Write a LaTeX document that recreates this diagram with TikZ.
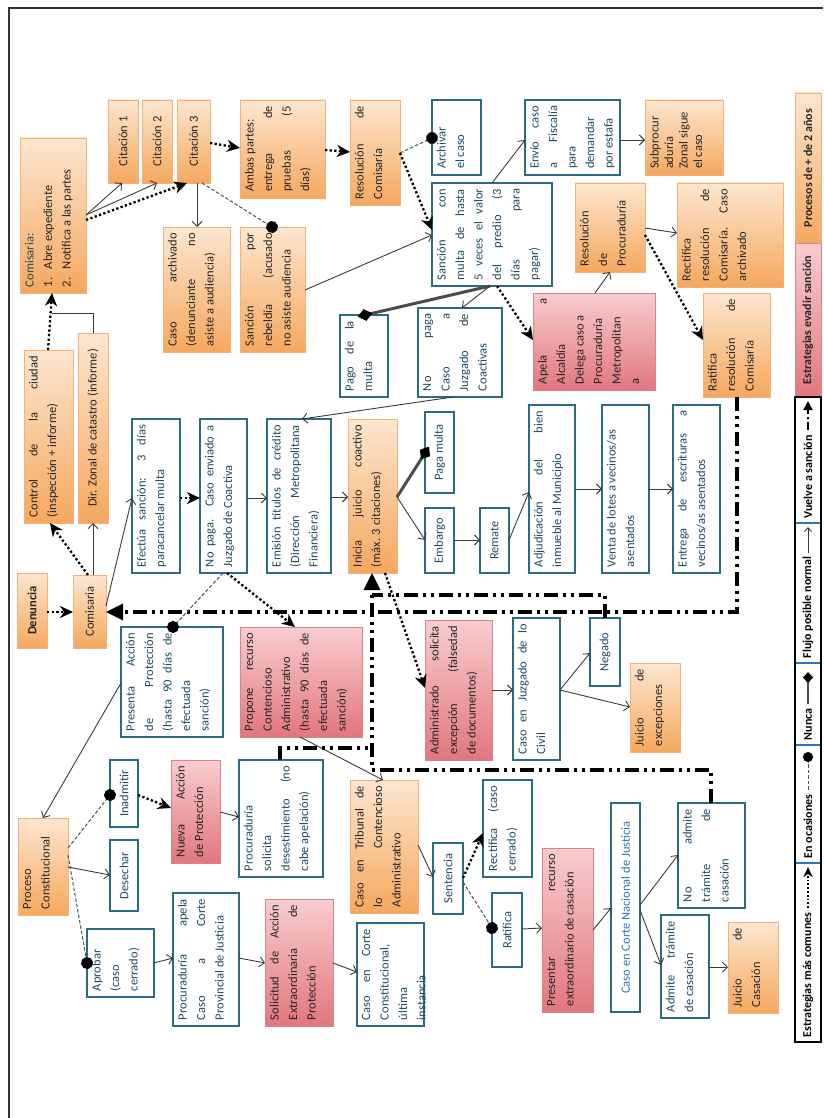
\documentclass[tikz,border=0pt]{standalone}
\usepackage{fontspec}
\setmainfont{Carlito}
\usetikzlibrary{arrows.meta,calc}

\definecolor{orL}{HTML}{FDE6CF}
\definecolor{orD}{HTML}{F5A85E}
\definecolor{orB}{HTML}{F2B27C}
\definecolor{pkL}{HTML}{F8CDCE}
\definecolor{pkD}{HTML}{E2767E}
\definecolor{pkB}{HTML}{D7848A}
\definecolor{wB}{HTML}{2C6B80}
\definecolor{wT}{HTML}{1F4B63}
\definecolor{oT}{HTML}{262626}
\definecolor{cBl}{HTML}{2E74B5}
\definecolor{ln}{HTML}{3A3A3A}
\definecolor{oc}{HTML}{3D5566}
\definecolor{sepB}{HTML}{2E75B6}

\newdimen\padv \padv=5pt
\newdimen\padh \padh=6pt
\newcommand\bodyfont{\fontsize{12.5}{18.5}\selectfont}
\newcommand\lgfont{\fontsize{12}{14}\selectfont\bfseries}

% text box: style, name, x1, x2, y1, y2, text (top aligned, justified, reads upwards)
\newcommand\tbox[7]{%
  \node[#1, minimum width={#6pt-#5pt}, minimum height={#4pt-#3pt}]
    (#2) at ({(#3+#4)/2},{(#5+#6)/2})
    {\parbox[c][\dimexpr#4pt-#3pt-2\padv\relax][t]{\dimexpr#6pt-#5pt-2\padh\relax}{#7}};}
% centred single-line box
\newcommand\cbox[7]{%
  \node[#1, minimum width={#6pt-#5pt}, minimum height={#4pt-#3pt}, align=center]
    (#2) at ({(#3+#4)/2},{(#5+#6)/2}) {#7};}

\begin{document}
\hyphenpenalty=10000 \exhyphenpenalty=10000 \tolerance=10000
\hbadness=10000 \vbadness=10000 \lefthyphenmin=64
\begin{tikzpicture}[x=1pt, y=-1pt,
  base/.style={rectangle, rotate=90, inner sep=0pt, outer sep=0pt, font=\bodyfont},
  wbox/.style={base, draw=wB, line width=1.1pt, fill=white, text=wT},
  obox/.style={base, draw=orB, line width=0.8pt, top color=orL, bottom color=orD, text=oT},
  pbox/.style={base, draw=pkB, line width=0.8pt, top color=pkL, bottom color=pkD, text=oT},
  lgOr/.style={obox, font=\lgfont},
  lgPk/.style={pbox, font=\lgfont},
  lgW/.style={base, fill=white},
  lgt/.style={rotate=90, inner sep=0.5pt, font=\lgfont, text=black},
  nrm/.style={draw=ln, line width=0.9pt, -{Straight Barb[length=5pt,width=10pt]}},
  plain/.style={draw=ln, line width=0.9pt},
  com/.style={draw=black, line width=2.3pt, dash pattern=on 2.3pt off 2.3pt,
    -{Stealth[length=13pt,width=12pt,inset=4pt]}},
  occ/.style={draw=oc, line width=1pt, dash pattern=on 3.5pt off 2pt,
    -{Circle[length=12pt,color=black]}, shorten >=-6pt},
  nev/.style={draw=black!70, line width=3pt, -{Diamond[length=15pt,width=12pt,color=black]}, shorten >=-7.5pt},
  back/.style={draw=black, line width=3.2pt,
    dash pattern=on 14pt off 5pt on 3pt off 5pt on 3pt off 5pt,
    -{Triangle[length=17pt,width=16pt]}},
  backp/.style={back, -},
  frame/.style={draw=black!80, line width=1.2pt}
]
\useasboundingbox (0,0) rectangle (823,1118);
\draw[frame] (9,1118) -- (9,8) -- (823,8);

% ---- boxes ----
\tbox{obox}{comL}{20}{86}{138}{293}{{\color{wT}Comisaria:}\\\makebox[18pt][l]{1.}Abre expediente\\\makebox[18pt][l]{2.}Notifica a las partes}
\cbox{obox}{cit1}{108}{138}{100}{183}{Citación 1}
\cbox{obox}{cit2}{142}{172}{100}{183}{Citación 2}
\cbox{obox}{cit3}{177}{210}{100}{183}{Citación 3}
\tbox{obox}{ambas}{240}{325}{100}{198}{Ambas partes:\\ entrega de\linebreak pruebas (5\linebreak días)}
\tbox{obox}{resC}{350}{400}{100}{205}{Resolución de\linebreak Comisaría}
\tbox{wbox}{arch}{432}{481}{100}{175}{Archivar\\ el caso}
\tbox{wbox}{sanM}{432}{552}{183}{286}{Sanción con\linebreak multa de hasta\linebreak 5 veces el valor\linebreak del predio (3\linebreak días para\linebreak pagar)}
\tbox{wbox}{envio}{525}{620}{100}{175}{Envío caso\linebreak a Fiscalía\linebreak para\\ demandar\\ por estafa}
\tbox{obox}{subp}{645}{723}{100}{175}{\baselineskip=14.5pt Subprocur\\ aduría\\ Zonal sigue\\ el caso}
\tbox{obox}{resP}{575}{645}{183}{272}{Resolución\\ de\\ Procuraduría}
\tbox{obox}{rectC}{677}{783}{183}{287}{Rectifica\\ resolución de\linebreak Comisaría. Caso\linebreak archivado}
\tbox{obox}{caseArch}{163}{230}{227}{352}{Caso archivado\linebreak (denunciante no\linebreak asiste a audiencia)}
\tbox{obox}{sanR}{240}{305}{227}{352}{Sanción por\linebreak rebeldía (acusado\linebreak no asiste audiencia}
\tbox{obox}{ctrl}{24}{73}{350}{523}{Control de la ciudad\linebreak (inspección + informe)}
\cbox{obox}{dirz}{78}{108}{333}{523}{Dir. Zonal de catastro (informe)}
\cbox{obox}{den}{17}{47}{573}{648}{\textbf{Denuncia}}
\cbox{obox}{comS}{73}{106}{575}{648}{Comisaria}
\tbox{wbox}{efec}{132}{180}{419}{573}{Efectúa sanción: 3 días\linebreak paracancelar multa}
\tbox{wbox}{nopag1}{200}{247}{419}{573}{No paga. Caso enviado a\linebreak Juzgado de Coactiva}
\tbox{wbox}{emis}{267}{331}{419}{573}{Emisión títulos de crédito\linebreak (Dirección Metropolitana\linebreak Financiera)}
\tbox{wbox}{pago}{340}{388}{315}{397}{Pago de la\linebreak multa}
\tbox{wbox}{nopag2}{418}{502}{308}{397}{No paga\linebreak Caso a\linebreak Juzgado de\linebreak Coactivas}
\tbox{obox}{inic}{348}{397}{419}{573}{Inicia juicio coactivo\linebreak (máx. 3 citaciones)}
\cbox{wbox}{pagaM}{425}{454}{412}{493}{Paga multa}
\cbox{wbox}{emb}{425}{454}{508}{573}{Embargo}
\cbox{wbox}{rem}{480}{509}{508}{573}{Remate}
\tbox{wbox}{adj}{529}{575}{405}{573}{Adjudicación del bien\linebreak inmueble al Municipio}
\tbox{pbox}{apela}{533}{655}{293}{390}{Apela a\linebreak Alcaldía\\ Delega caso a\\ Procuraduría\\ Metropolitan\\ a}
\tbox{obox}{ratC}{703}{770}{293}{397}{Ratifica\\ resolución de\linebreak Comisaría}
\tbox{wbox}{venta}{602}{649}{405}{573}{Venta de lotes a vecinos/as\\ asentados}
\tbox{wbox}{entr}{673}{720}{405}{573}{Entrega de escrituras a\linebreak vecinos/as asentados}
\tbox{wbox}{pres}{121}{223}{627}{737}{Presenta Acción\linebreak de Protección\linebreak (hasta 90 días de\linebreak efectuada\\ sanción)}
\tbox{pbox}{prop}{240}{362}{627}{737}{Propone recurso\linebreak Contencioso\\ Administrativo\\ (hasta 90 días de\linebreak efectuada\\ sanción)}
\cbox{wbox}{inad}{110}{138}{760}{827}{Inadmitir}
\tbox{pbox}{nueva}{171}{220}{760}{863}{Nueva Acción\linebreak de Protección}
\tbox{wbox}{procS}{239}{323}{760}{877}{Procuraduría\\ solicita\\ desestimiento (no\linebreak cabe apelación)}
\tbox{pbox}{adm}{425}{492}{620}{760}{Administrado solicita\linebreak excepción (falsedad\linebreak de documentos)}
\tbox{wbox}{civ}{513}{560}{618}{760}{Caso en Juzgado de lo\linebreak Civil}
\cbox{wbox}{neg}{590}{620}{618}{686}{Negado}
\tbox{obox}{jExc}{630}{680}{663}{752}{Juicio de\linebreak excepciones}
\tbox{obox}{proc}{18}{68}{818}{915}{Proceso\\ Constitucional}
\cbox{wbox}{des}{110}{138}{840}{911}{Desechar}
\tbox{wbox}{apr}{87}{154}{929}{997}{Aprobar\\ (caso\\ cerrado)}
\tbox{wbox}{procA}{173}{239}{893}{1026}{Procuraduría apela\linebreak Caso a Corte\linebreak Provincial de Justicia}
\tbox{pbox}{sol}{265}{333}{899}{1026}{Solicitud de Acción\linebreak Extraordinaria de\linebreak Protección}
\tbox{wbox}{cCon}{357}{424}{923}{1026}{Caso en Corte\linebreak Constitucional,\\ última\\ instancia}
\tbox{obox}{trib}{350}{418}{780}{913}{Caso en Tribunal de\linebreak lo Contencioso\linebreak Administrativo}
\cbox{wbox}{sent}{433}{463}{843}{914}{Sentencia}
\tbox{wbox}{rectS}{483}{532}{780}{877}{Rectifica (caso\linebreak cerrado)}
\cbox{wbox}{ratS}{492}{522}{893}{967}{Ratifica}
\tbox{pbox}{presR}{542}{593}{848}{1012}{Presentar recurso\linebreak extraordinario de casación}
\cbox{wbox}{cNac}{611}{640}{803}{1012}{\color{cBl}Caso en Corte Nacional de Justicia}
\tbox{wbox}{noAdm}{678}{745}{803}{908}{No admite\linebreak trámite de\linebreak casación}
\tbox{wbox}{adm2}{661}{709}{915}{1018}{Admite trámite\linebreak de casación}
\tbox{obox}{jCas}{728}{778}{922}{1013}{Juicio de\linebreak Casación}

% ---- connectors ----
\draw[nrm] (comL.south |- 0,215) -- (cit1.west -| 122,0);
\draw[nrm] (comL.south |- 0,215) -- (cit2.west -| 157,0);
\draw[com] (comL.south |- 0,220) -- (cit3.west -| 187,0);
\draw[nrm] (cit3.west -| 197,0) -- (caseArch.east -| 197,0);
\draw[occ] (cit3.west -| 202,0) -- (sanR.east -| 272,0);
\draw[com] (cit3.south |- 0,143) -- (ambas.north |- 0,148);
\draw[com] (ambas.south |- 0,150) -- (resC.north |- 0,152);
\draw[occ] (resC.south |- 0,153) -- (arch.north |- 0,138);
\draw[com] (resC.south |- 0,153) -- (sanM.north |- 0,230);
\draw[nrm] (sanR.south |- 0,290) -- (sanM.north |- 0,235);
\draw[nrm] (sanM.east -| 492,0) -- (envio.north |- 0,140);
\draw[nrm] (envio.south |- 0,140) -- (subp.north |- 0,140);
\draw[nev] (sanM.west -| 490,0) -- (pago.east -| 365,0);
\draw[nrm] (sanM.west -| 490,0) -- (nopag2.east -| 462,0);
\draw[com] (sanM.west -| 497,0) -- (apela.north |- 0,340);
\draw[nrm] (apela.east -| 595,0) -- (resP.west -| 610,0);
\draw[nrm] (resP.south |- 0,228) -- (rectC.north |- 0,233);
\draw[com] (resP.south |- 0,235) -- (ratC.north |- 0,340);
\draw[back] (ratC.west -| 737,0) |- (comS.south |- 0,612);
\draw[nrm] (nopag2.west -| 453,0) -- (emis.east -| 302,0);
\draw[nrm] (comS.south |- 0,606) -- (efec.north |- 0,498);
\draw[com] (efec.south |- 0,498) -- (nopag1.north |- 0,498);
\draw[nrm] (nopag1.south |- 0,498) -- (emis.north |- 0,498);
\draw[nrm] (emis.south |- 0,497) -- (inic.north |- 0,497);
\draw[nev] (inic.south |- 0,497) -- (pagaM.north |- 0,453);
\draw[nrm] (inic.south |- 0,497) -- (emb.north |- 0,540);
\draw[nrm] (emb.south |- 0,540) -- (rem.north |- 0,540);
\draw[nrm] (rem.south |- 0,540) -- (adj.north |- 0,492);
\draw[nrm] (adj.south |- 0,489) -- (venta.north |- 0,489);
\draw[nrm] (venta.south |- 0,489) -- (entr.north |- 0,489);
\draw[com] (den.south |- 0,612) -- (comS.north |- 0,612);
\draw[com] (comS.east -| 88,0) -- (ctrl.west -| 50,0);
\draw[nrm] (comS.east -| 93,0) -- (dirz.west -| 93,0);
\draw[com] (ctrl.east -| 48,0) -- (comL.west -| 52,0);
\coordinate (j1) at (52,313);
\draw[plain] (dirz.east -| 93,0) |- (j1);
\draw[occ] (nopag1.west -| 223,0) -- (pres.east -| 173,0);
\draw[com] (nopag1.west -| 227,0) -- (prop.east -| 295,0);
\draw[nrm] (pres.north |- 0,683) -- (proc.east -| 43,0);
\draw[occ] (proc.south |- 0,848) -- (inad.north |- 0,795);
\draw[nrm] (proc.south |- 0,867) -- (des.north |- 0,875);
\draw[occ] (proc.south |- 0,855) -- (apr.north |- 0,963);
\draw[com] (inad.south |- 0,795) -- (nueva.north |- 0,808);
\draw[nrm] (nueva.south |- 0,812) -- (procS.north |- 0,817);
\draw[nrm] (prop.west -| 300,0) -- (trib.east -| 383,0);
\draw[nrm] (trib.south |- 0,845) -- (sent.north |- 0,877);
\draw[com] (sent.south |- 0,878) -- (rectS.north |- 0,833);
\draw[occ] (sent.south |- 0,882) -- (ratS.north |- 0,928);
\draw[nrm] (ratS.south |- 0,929) -- (presR.north |- 0,928);
\draw[nrm] (presR.south |- 0,930) -- (cNac.north |- 0,908);
\draw[nrm] (cNac.south |- 0,905) -- (noAdm.north |- 0,855);
\draw[nrm] (cNac.south |- 0,910) -- (adm2.north |- 0,965);
\draw[nrm] (adm2.south |- 0,967) -- (jCas.north |- 0,967);
\draw[nrm] (apr.south |- 0,963) -- (procA.north |- 0,958);
\draw[nrm] (procA.south |- 0,958) -- (sol.north |- 0,963);
\draw[nrm] (sol.south |- 0,963) -- (cCon.north |- 0,972);
\draw[com] (inic.west -| 385,0) -- (adm.north |- 0,688);
\draw[nrm] (adm.south |- 0,690) -- (civ.north |- 0,690);
\draw[nrm] (civ.south |- 0,690) -- (neg.north |- 0,653);
\draw[nrm] (civ.south |- 0,690) -- (jExc.north |- 0,707);
% returns to the coactive trial
\coordinate (m1) at (372,595);
\coordinate (m2) at (372,748);
\coordinate (m3) at (372,770);
\draw[back] (noAdm.east -| 711,0) |- (m3) -- (inic.west -| 372,0);
\draw[backp] (neg.east -| 605,0) |- (m1);
\draw[backp] (procS.east -| 280,0) |- (m2);

% ---- legend ----
\cbox{lgOr}{lgO}{795}{821}{93}{243}{Procesos de + de 2 años}
\cbox{lgPk}{lgP}{795}{821}{243}{397}{Estrategias evadir sanción}
\cbox{lgW}{lgV}{795}{821}{397}{523}{}
\cbox{lgW}{lgF}{795}{821}{523}{663}{}
\cbox{lgW}{lgN}{795}{821}{663}{745}{}
\cbox{lgW}{lgE}{795}{821}{745}{863}{}
\cbox{lgW}{lgS}{795}{821}{863}{1042}{}
\foreach \c in {lgV,lgF,lgN,lgE}
  \draw[sepB, line width=1.5pt] (\c.north west) -- (\c.south west);
\draw[black, line width=2.2pt] (lgV.north east) rectangle (lgS.south west);

\node[lgt, anchor=west] (tV) at (808,519) {Vuelve a sanción};
\draw[back, line width=2pt, dash pattern=on 8pt off 3pt on 2pt off 3pt,
  -{Triangle[length=9pt,width=9pt]}] ($(tV.east)+(0,-4)$) -- (808,401);
\node[lgt, anchor=west] (tF) at (808,659) {Flujo posible normal};
\draw[nrm, -{Straight Barb[length=4pt,width=7pt]}] ($(tF.east)+(0,-3)$) -- (808,527);
\node[lgt, anchor=west] (tN) at (808,741) {Nunca};
\draw[nev, line width=2pt, -{Diamond[length=11pt,width=10pt,color=black]}, shorten >=0pt]
  ($(tN.east)+(0,-4)$) -- (808,672);
\node[lgt, anchor=west] (tE) at (808,859) {En ocasiones};
\draw[occ, -{Circle[length=10pt,color=black]}, shorten >=0pt] ($(tE.east)+(0,-4)$) -- (808,752);
\node[lgt, anchor=west] (tS) at (808,1038) {Estrategias más comunes};
\draw[com, line width=1.8pt, dash pattern=on 1.8pt off 2pt,
  -{Stealth[length=10pt,width=9pt,inset=3pt]}] ($(tS.east)+(0,-4)$) -- (808,867);
\end{tikzpicture}
\end{document}
